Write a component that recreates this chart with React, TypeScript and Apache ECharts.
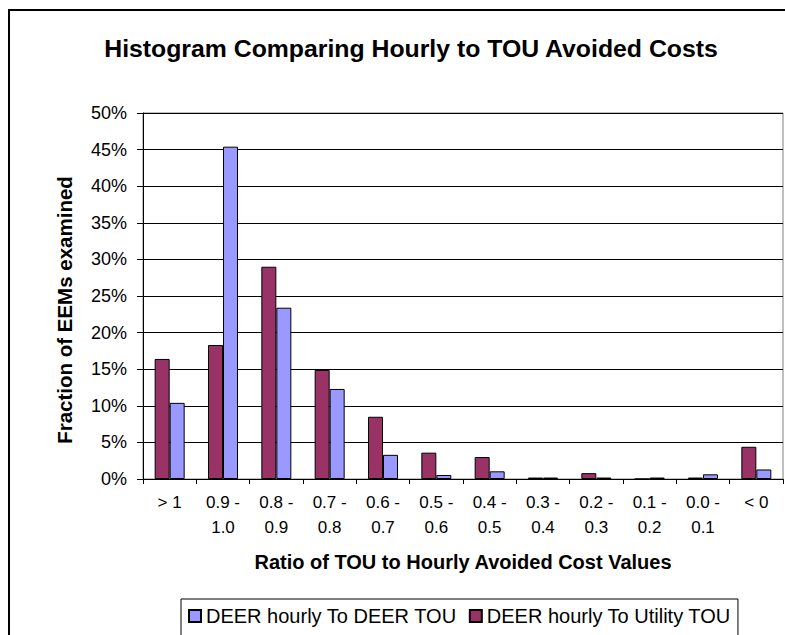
import React, { useEffect, useRef } from "react";
import * as echarts from "echarts";

const categories = [
  "> 1",
  "0.9 -\n1.0",
  "0.8 -\n0.9",
  "0.7 -\n0.8",
  "0.6 -\n0.7",
  "0.5 -\n0.6",
  "0.4 -\n0.5",
  "0.3 -\n0.4",
  "0.2 -\n0.3",
  "0.1 -\n0.2",
  "0.0 -\n0.1",
  "< 0",
];
const deerToUtility = [16.4, 18.3, 29.0, 14.9, 8.5, 3.6, 3.0, 0.2, 0.8, 0, 0.2, 4.4];
const deerToDeer = [10.4, 45.4, 23.4, 12.3, 3.3, 0.55, 1.05, 0.2, 0.2, 0.2, 0.64, 1.3];
const seriesNames = ["DEER hourly To DEER TOU", "DEER hourly To Utility TOU"];
const yMax = 50;
const yStep = 5;

const FONT = "Liberation Sans, Arial, sans-serif";

export default function App() {
  const ref = useRef<HTMLDivElement>(null);
  useEffect(() => {
    if (!ref.current) return;
    const chart = echarts.init(ref.current, null, { renderer: "svg" });
    chart.setOption({
      animation: false,
      backgroundColor: "#fff",
      title: {
        text: "Histogram Comparing Hourly to TOU Avoided Costs",
        left: 406,
        top: 31,
        textAlign: "center",
        textStyle: { fontFamily: FONT, fontSize: 24.8, fontWeight: "bold", color: "#000" },
      },
      graphic: [
        {
          type: "rect",
          shape: { x: 9, y: 10, width: 900, height: 800 },
          style: { fill: "none", stroke: "#000", lineWidth: 2 },
          silent: true,
        },
      ],
      legend: {
        data: seriesNames,
        left: 181,
        top: 599,
        orient: "horizontal",
        icon: "rect",
        itemWidth: 12,
        itemHeight: 12,
        itemGap: 12,
        padding: [7, 7, 40, 7],
        borderColor: "#000",
        borderWidth: 1,
        textStyle: { fontFamily: FONT, fontSize: 20, color: "#000" },
      },
      grid: {
        left: 143,
        right: 2,
        top: 113,
        bottom: 156,
        show: true,
        borderColor: "#808080",
        borderWidth: 1,
      },
      xAxis: {
        type: "category",
        data: categories,
        name: "Ratio of TOU to Hourly Avoided Cost Values",
        nameLocation: "middle",
        nameGap: 73,
        nameTextStyle: { fontFamily: FONT, fontSize: 20, fontWeight: "bold", color: "#000" },
        axisLine: { lineStyle: { color: "#000", width: 1 } },
        axisTick: { show: true, length: 5, lineStyle: { color: "#000" } },
        axisLabel: {
          fontFamily: FONT,
          fontSize: 17,
          color: "#000",
          lineHeight: 25,
          margin: 11,
          interval: 0,
        },
      },
      yAxis: {
        type: "value",
        min: 0,
        max: yMax,
        interval: yStep,
        name: "Fraction of EEMs examined",
        nameLocation: "middle",
        nameGap: 68,
        nameTextStyle: {
          fontFamily: FONT,
          fontSize: 20.5,
          fontWeight: "bold",
          color: "#000",
          padding: [0, 28, 0, 0],
        },
        axisLine: { show: true, lineStyle: { color: "#000", width: 1 } },
        axisTick: { show: true, length: 6, lineStyle: { color: "#000" } },
        axisLabel: {
          fontFamily: FONT,
          fontSize: 18,
          color: "#000",
          margin: 16,
          formatter: "{value}%",
        },
        splitLine: { show: true, lineStyle: { color: "#000", width: 1 } },
      },
      series: [
        {
          name: seriesNames[1],
          type: "bar",
          data: deerToUtility,
          barWidth: 15,
          barGap: "0%",
          itemStyle: { color: "#993366", borderColor: "#000", borderWidth: 1 },
        },
        {
          name: seriesNames[0],
          type: "bar",
          data: deerToDeer,
          barWidth: 15,
          barGap: "0%",
          itemStyle: { color: "#9999FF", borderColor: "#000", borderWidth: 1 },
        },
      ],
    });
    return () => chart.dispose();
  }, []);
  return (
    <div
      ref={ref}
      style={{ position: "fixed", left: 0, top: 0, width: 785, height: 635 }}
    />
  );
}
